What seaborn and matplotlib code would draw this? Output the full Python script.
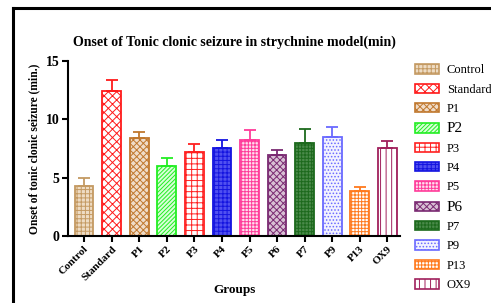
import numpy as np
import pandas as pd
import matplotlib
matplotlib.use('Agg')
import matplotlib.pyplot as plt
from matplotlib.patches import Patch
from matplotlib.lines import Line2D
import seaborn as sns

groups = ['Control', 'Standard', 'P1', 'P2', 'P3', 'P4', 'P5', 'P6', 'P7', 'P9', 'P13', 'OX9']
onset = [4.3, 12.4, 8.4, 6.0, 7.2, 7.5, 8.2, 6.9, 8.0, 8.5, 3.85, 7.5]
sem = [0.65, 0.95, 0.5, 0.7, 0.7, 0.7, 0.85, 0.5, 1.2, 0.8, 0.35, 0.6]

colors = ['#C49A62', '#FF1A1A', '#C0782E', '#22EE22', '#FF2020', '#1414E0',
          '#FF3C9A', '#7A2A72', '#1D6A1D', '#6A6AFF', '#FF7A1E', '#A0205C']
faces = ['#EEDCC4', '#FFFFFF', '#F0DCC8', '#D8FFD8', '#FFFFFF', '#5050F0',
         '#FFE0EE', '#D8C0D4', '#4A8A4A', '#F2F2FF', '#FFFFFF', '#FFFFFF']
hatches = ['++++', 'xxxx', 'xxxxx', '////////', '+++', '++++', '+++++', 'xxxxx', '+++++', '.....', '+++++', '|||']

plt.rcParams['font.family'] = ['Liberation Serif', 'DejaVu Serif']
plt.rcParams['hatch.linewidth'] = 0.7

df = pd.DataFrame({'Group': groups, 'Onset': onset})

fig = plt.figure(figsize=(4.91, 3.03), dpi=100)
ax = fig.add_axes([0.1385, 0.221, 0.677, 0.578])

sns.barplot(data=df, x='Group', y='Onset', hue='Group', palette=colors,
            legend=False, width=0.68, ax=ax, saturation=1)

for bar, c, f, h in zip(ax.patches, colors, faces, hatches):
    bar.set_facecolor(f)
    bar.set_edgecolor(c)
    bar.set_hatch(h)
    bar.set_linewidth(1.3)

xs = np.arange(len(groups))
for x, v, e, c in zip(xs, onset, sem, colors):
    ax.errorbar(x, v, yerr=[[0], [e]], fmt='none', ecolor=c, elinewidth=1.3,
                capsize=4, capthick=1.3)

ax.set_xlim(-0.58, 11.47)
ax.set_ylim(0, 15)
ax.set_yticks([0, 5, 10, 15])
ax.set_yticklabels(['0', '5', '10', '15'], fontsize=10, fontweight='bold')
ax.set_xticks(xs)
ax.set_xticklabels(groups, rotation=45, ha='right', rotation_mode='anchor',
                   fontsize=8, fontweight='bold')
for s in ['top', 'right']:
    ax.spines[s].set_visible(False)
for s in ['left', 'bottom']:
    ax.spines[s].set_linewidth(1.5)
ax.tick_params(axis='both', width=1.5, length=4, pad=2)
ax.set_xlabel('Groups', fontsize=9.5, fontweight='bold', labelpad=1)
ax.set_ylabel('Onset of tonic clonic seizure (min.)', fontsize=8.3, fontweight='bold', labelpad=4)
ax.set_title('Onset of Tonic clonic seizure in strychnine model(min)',
             fontsize=10, fontweight='bold', pad=11)

handles = [Patch(facecolor=f, edgecolor=c, hatch=h, linewidth=1.2)
           for c, f, h in zip(colors, faces, hatches)]
leg = ax.legend(handles, groups, loc='upper left', bbox_to_anchor=(1.03, 1.01),
                frameon=False, fontsize=9, handlelength=1.9, handleheight=0.8,
                labelspacing=0.58, handletextpad=0.6, borderaxespad=0)
for t in leg.get_texts():
    if t.get_text() in ('P2', 'P6'):
        t.set_fontsize(11)

# framing border of the original image
fig.add_artist(Line2D([13 / 491, 13 / 491], [0, 1 - 8 / 303], transform=fig.transFigure,
                      color='black', linewidth=2.2))
fig.add_artist(Line2D([13 / 491, 1], [1 - 8 / 303, 1 - 8 / 303], transform=fig.transFigure,
                      color='black', linewidth=2.2))

fig.savefig('out.png', dpi=100)
